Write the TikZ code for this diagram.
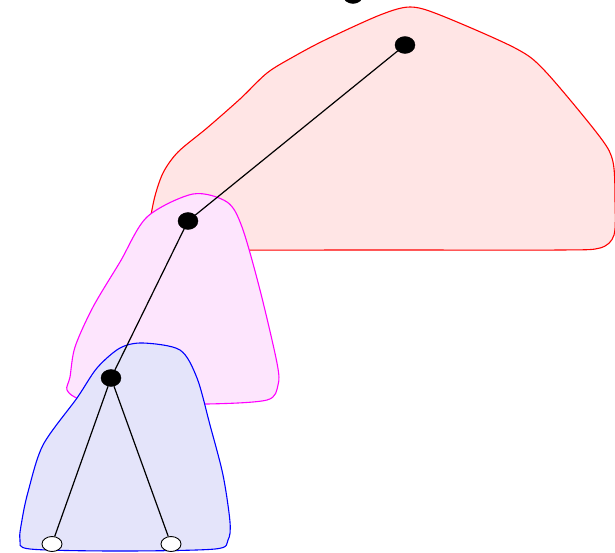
\documentclass[tikz,border=0pt]{standalone}
\usetikzlibrary{shapes.geometric}
\begin{document}
\begin{tikzpicture}[x=1pt,y=-1pt,
  blob/.style={line width=1.1pt},
  innernode/.style={ellipse,fill=black,draw=black,minimum width=20pt,minimum height=17pt,inner sep=0pt},
  leafnode/.style={ellipse,fill=white,draw=black,line width=0.9pt,minimum width=20pt,minimum height=15pt,inner sep=0pt},
  conn/.style={draw=black,line width=1.2pt}]
\useasboundingbox (0,0) rectangle (615,552);
\clip (0,0) rectangle (615,552);
\definecolor{redline}{RGB}{255,0,0}
\definecolor{magline}{RGB}{255,0,255}
\definecolor{blueline}{RGB}{0,0,255}
\definecolor{redfill}{RGB}{255,229,229}
\definecolor{magfill}{RGB}{253,229,253}
\definecolor{bluefill}{RGB}{228,228,250}
% red region
\draw[blob,draw=redline,fill=redfill] plot[smooth cycle,tension=0.5] coordinates {
 (150,230) (154,200) (163,173) (178,152) (207,128) (240,99) (267,73) (293,57) (325,40) (380,15)
 (410,7) (440,15) (515,48) (545,71) (600,137) (613,162) (615,200) (614,235) (600,248) (560,250)
 (400,250) (230,250) (160,249)};
% magenta region
\draw[blob,draw=magline,fill=magfill] plot[smooth cycle,tension=0.5] coordinates {
 (193,194) (227,202) (242,227) (260,290) (277,363) (278,385) (267,400) (207,404) (120,403) (80,399)
 (67,390) (70,377) (75,347) (93,307) (120,262) (147,217)};
% blue region
\draw[blob,draw=blueline,fill=bluefill] plot[smooth cycle,tension=0.5] coordinates {
 (143,343) (180,350) (197,378) (210,425) (223,475) (230,522) (228,540) (215,549) (120,551) (30,549)
 (20,540) (22,520) (28,492) (43,445) (77,398) (97,368) (120,348)};
% nodes
\node[innernode] (r) at (353,-5) {};
\node[innernode] (a) at (405,45) {};
\node[innernode] (b) at (188,221) {};
\node[innernode] (c) at (111,378) {};
\node[leafnode] (d) at (52,544) {};
\node[leafnode] (e) at (171,544) {};
% edges
\draw[conn] (a) -- (b);
\draw[conn] (b) -- (c);
\draw[conn] (c) -- (d);
\draw[conn] (c) -- (e);
\end{tikzpicture}
\end{document}
